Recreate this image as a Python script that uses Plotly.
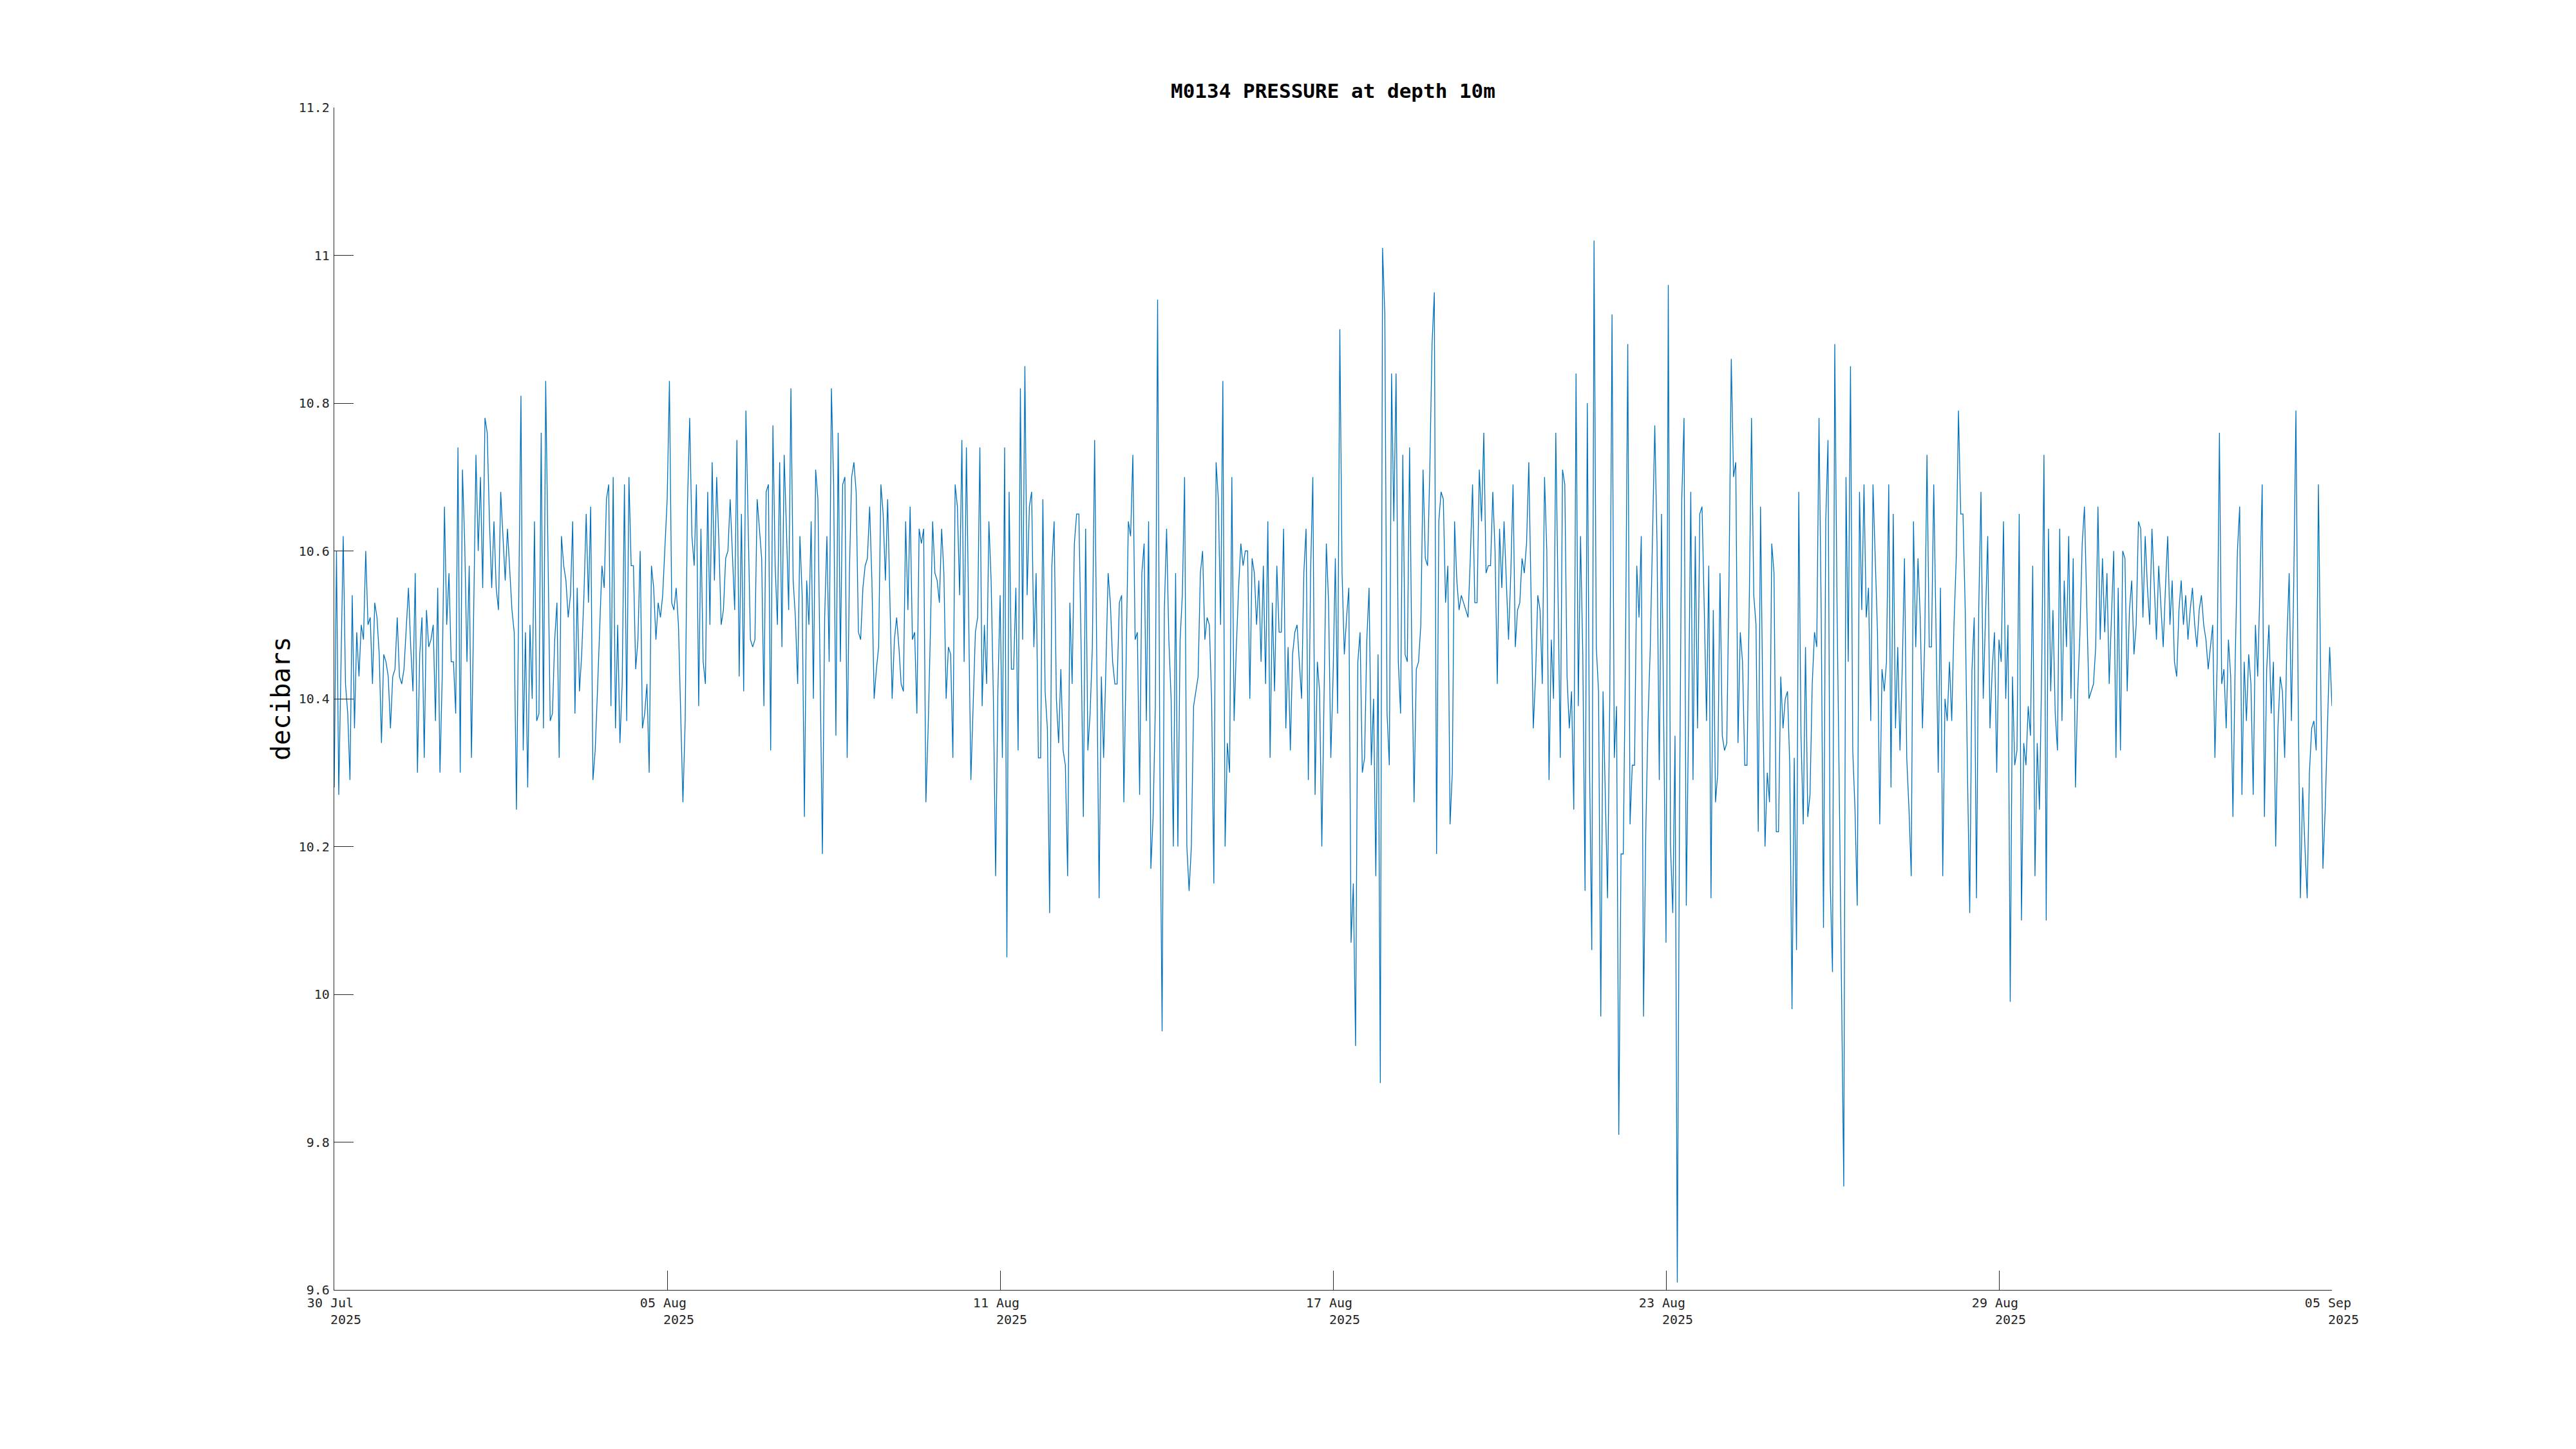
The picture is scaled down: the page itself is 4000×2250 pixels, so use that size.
import plotly.graph_objects as go
import pandas as pd

# ---------------- data (hourly samples, decibars) ----------------
series_start = "2025-07-30 00:00"
sample_interval = "h"

p_jul30_aug02 = [
    10.28, 10.60, 10.27, 10.44, 10.62, 10.42, 10.38, 10.29, 10.54, 10.36,
    10.49, 10.43, 10.50, 10.48, 10.60, 10.50, 10.51, 10.42, 10.53, 10.51,
    10.46, 10.34, 10.46, 10.45, 10.43, 10.36, 10.43, 10.44, 10.51, 10.43,
    10.42, 10.44, 10.50, 10.55, 10.47, 10.41, 10.57, 10.30, 10.46, 10.51,
    10.32, 10.52, 10.47, 10.48, 10.50, 10.37, 10.55, 10.30, 10.43, 10.66,
    10.50, 10.57, 10.45, 10.45, 10.38, 10.74, 10.30, 10.71, 10.61, 10.45,
    10.58, 10.32, 10.52, 10.73, 10.60, 10.70, 10.55, 10.78, 10.76, 10.64,
    10.55, 10.64, 10.55, 10.52, 10.68, 10.62, 10.56, 10.63, 10.57, 10.52,
    10.49, 10.25, 10.53, 10.81, 10.33, 10.49, 10.28, 10.50, 10.40, 10.64,
]
p_aug02_aug06 = [
    10.37, 10.38, 10.76, 10.36, 10.83, 10.58, 10.37, 10.38, 10.48, 10.53,
    10.32, 10.62, 10.58, 10.56, 10.51, 10.54, 10.64, 10.38, 10.55, 10.41,
    10.46, 10.54, 10.65, 10.53, 10.66, 10.29, 10.33, 10.41, 10.50, 10.58,
    10.55, 10.67, 10.69, 10.39, 10.70, 10.36, 10.50, 10.34, 10.42, 10.69,
    10.37, 10.70, 10.58, 10.58, 10.44, 10.48, 10.60, 10.36, 10.38, 10.42,
    10.30, 10.58, 10.55, 10.48, 10.53, 10.51, 10.54, 10.60, 10.67, 10.83,
    10.53, 10.52, 10.55, 10.50, 10.38, 10.26, 10.37, 10.66, 10.78, 10.62,
    10.58, 10.69, 10.39, 10.63, 10.45, 10.42, 10.68, 10.50, 10.72, 10.56,
    10.70, 10.61, 10.50, 10.52, 10.59, 10.60, 10.67, 10.59, 10.52,
]
p_aug06_aug10 = [
    10.75, 10.43, 10.65, 10.41, 10.79, 10.64, 10.48, 10.47, 10.48, 10.67,
    10.63, 10.59, 10.39, 10.68, 10.69, 10.33, 10.77, 10.58, 10.50, 10.72,
    10.47, 10.73, 10.63, 10.52, 10.82, 10.56, 10.51, 10.42, 10.62, 10.54,
    10.24, 10.56, 10.50, 10.64, 10.40, 10.71, 10.67, 10.43, 10.19, 10.51,
    10.62, 10.45, 10.82, 10.69, 10.35, 10.76, 10.45, 10.69, 10.70, 10.32,
    10.57, 10.70, 10.72, 10.68, 10.49, 10.48, 10.55, 10.58, 10.59, 10.66,
    10.56, 10.40, 10.44, 10.47, 10.69, 10.65, 10.56, 10.67, 10.53, 10.40,
    10.48, 10.51, 10.47, 10.42, 10.41, 10.64, 10.52, 10.66, 10.48, 10.49,
    10.38, 10.63, 10.61, 10.63, 10.26, 10.36, 10.49, 10.64, 10.57,
]
p_aug10_aug14 = [
    10.56, 10.53, 10.63, 10.57, 10.40, 10.47, 10.46, 10.32, 10.69, 10.66,
    10.54, 10.75, 10.45, 10.74, 10.52, 10.29, 10.39, 10.49, 10.51, 10.74,
    10.39, 10.50, 10.42, 10.64, 10.56, 10.40, 10.16, 10.41, 10.54, 10.32,
    10.74, 10.05, 10.68, 10.44, 10.44, 10.55, 10.33, 10.82, 10.48, 10.85,
    10.54, 10.66, 10.68, 10.47, 10.57, 10.32, 10.32, 10.67, 10.41, 10.36,
    10.11, 10.58, 10.64, 10.40, 10.34, 10.44, 10.33, 10.31, 10.16, 10.53,
    10.42, 10.61, 10.65, 10.65, 10.47, 10.24, 10.63, 10.33, 10.38, 10.47,
    10.75, 10.44, 10.13, 10.43, 10.32, 10.44, 10.57, 10.53, 10.45, 10.42,
    10.42, 10.53, 10.54, 10.26, 10.44, 10.64, 10.62, 10.73, 10.48,
]
p_aug14_aug17 = [
    10.49, 10.27, 10.57, 10.61, 10.37, 10.64, 10.17, 10.24, 10.39, 10.94,
    10.31, 9.95, 10.52, 10.63, 10.48, 10.40, 10.20, 10.57, 10.20, 10.48,
    10.54, 10.70, 10.20, 10.14, 10.20, 10.39, 10.41, 10.43, 10.57, 10.60,
    10.48, 10.51, 10.50, 10.40, 10.15, 10.72, 10.67, 10.50, 10.83, 10.20,
    10.34, 10.30, 10.70, 10.37, 10.47, 10.55, 10.61, 10.58, 10.60, 10.60,
    10.40, 10.59, 10.57, 10.50, 10.56, 10.45, 10.58, 10.42, 10.64, 10.32,
    10.53, 10.41, 10.58, 10.49, 10.49, 10.63, 10.36, 10.47, 10.33, 10.46,
    10.49, 10.50, 10.45, 10.40, 10.57, 10.63, 10.29, 10.57, 10.70, 10.27,
    10.45, 10.41, 10.20, 10.40, 10.61, 10.53, 10.32, 10.43, 10.59, 10.38,
]
p_aug17_aug21 = [
    10.90, 10.57, 10.46, 10.51, 10.55, 10.07, 10.15, 9.93, 10.45, 10.49,
    10.30, 10.32, 10.48, 10.55, 10.31, 10.40, 10.16, 10.46, 9.88, 11.01,
    10.92, 10.38, 10.31, 10.84, 10.64, 10.84, 10.45, 10.38, 10.73, 10.46,
    10.45, 10.74, 10.46, 10.26, 10.44, 10.45, 10.50, 10.71, 10.59, 10.58,
    10.71, 10.88, 10.95, 10.19, 10.64, 10.68, 10.67, 10.53, 10.58, 10.23,
    10.30, 10.64, 10.56, 10.52, 10.54, 10.53, 10.52, 10.51, 10.59, 10.69,
    10.53, 10.53, 10.71, 10.64, 10.76, 10.57, 10.58, 10.58, 10.68, 10.60,
    10.42, 10.63, 10.55, 10.64, 10.56, 10.48, 10.57, 10.69, 10.47, 10.52,
    10.53, 10.59, 10.57, 10.61, 10.72, 10.53, 10.36, 10.43, 10.54, 10.52,
]
p_aug21_aug25 = [
    10.42, 10.70, 10.60, 10.29, 10.48, 10.40, 10.76, 10.54, 10.32, 10.71,
    10.69, 10.43, 10.36, 10.41, 10.25, 10.84, 10.39, 10.62, 10.46, 10.14,
    10.80, 10.31, 10.06, 11.02, 10.47, 10.41, 9.97, 10.41, 10.26, 10.13,
    10.40, 10.92, 10.32, 10.39, 9.81, 10.19, 10.19, 10.47, 10.88, 10.23,
    10.31, 10.31, 10.58, 10.51, 10.62, 9.97, 10.22, 10.37, 10.47, 10.63,
    10.77, 10.61, 10.29, 10.65, 10.36, 10.07, 10.96, 10.20, 10.11, 10.35,
    9.61, 10.25, 10.67, 10.78, 10.12, 10.37, 10.68, 10.29, 10.62, 10.36,
    10.65, 10.66, 10.52, 10.37, 10.58, 10.13, 10.52, 10.26, 10.30, 10.57,
    10.35, 10.33, 10.34, 10.56, 10.86, 10.70, 10.72, 10.34, 10.49, 10.45,
]
p_aug25_aug29 = [
    10.31, 10.31, 10.53, 10.78, 10.54, 10.50, 10.22, 10.66, 10.40, 10.20,
    10.30, 10.26, 10.61, 10.57, 10.22, 10.22, 10.43, 10.36, 10.40, 10.41,
    10.31, 9.98, 10.32, 10.06, 10.68, 10.35, 10.23, 10.47, 10.24, 10.27,
    10.42, 10.49, 10.47, 10.78, 10.51, 10.09, 10.64, 10.75, 10.15, 10.03,
    10.88, 10.53, 10.28, 10.02, 9.74, 10.70, 10.45, 10.85, 10.33, 10.25,
    10.12, 10.68, 10.52, 10.69, 10.51, 10.55, 10.37, 10.69, 10.59, 10.49,
    10.23, 10.44, 10.41, 10.45, 10.69, 10.28, 10.65, 10.36, 10.47, 10.33,
    10.44, 10.59, 10.32, 10.25, 10.16, 10.64, 10.47, 10.59, 10.51, 10.36,
    10.48, 10.73, 10.47, 10.47, 10.69, 10.50, 10.30, 10.55, 10.16,
]
p_aug29_sep01 = [
    10.40, 10.37, 10.45, 10.37, 10.50, 10.59, 10.79, 10.65, 10.65, 10.52,
    10.30, 10.11, 10.44, 10.51, 10.13, 10.52, 10.68, 10.40, 10.51, 10.62,
    10.36, 10.44, 10.49, 10.30, 10.48, 10.45, 10.64, 10.40, 10.50, 9.99,
    10.43, 10.31, 10.33, 10.65, 10.10, 10.34, 10.31, 10.39, 10.35, 10.58,
    10.16, 10.34, 10.25, 10.44, 10.73, 10.10, 10.63, 10.41, 10.52, 10.38,
    10.33, 10.63, 10.37, 10.56, 10.47, 10.62, 10.40, 10.59, 10.28, 10.41,
    10.49, 10.61, 10.66, 10.53, 10.40, 10.41, 10.42, 10.47, 10.66, 10.48,
    10.59, 10.49, 10.57, 10.42, 10.51, 10.60, 10.32, 10.55, 10.33, 10.60,
    10.59, 10.41, 10.52, 10.56, 10.46, 10.50, 10.64, 10.63, 10.51, 10.62,
]
p_sep01_sep05 = [
    10.55, 10.50, 10.63, 10.55, 10.48, 10.58, 10.52, 10.47, 10.55, 10.62,
    10.50, 10.56, 10.45, 10.43, 10.52, 10.56, 10.50, 10.54, 10.48, 10.52,
    10.55, 10.50, 10.47, 10.52, 10.54, 10.50, 10.48, 10.44, 10.47, 10.50,
    10.32, 10.45, 10.76, 10.42, 10.44, 10.36, 10.48, 10.43, 10.24, 10.45,
    10.60, 10.66, 10.27, 10.45, 10.37, 10.46, 10.42, 10.27, 10.50, 10.43,
    10.55, 10.69, 10.24, 10.44, 10.50, 10.38, 10.45, 10.20, 10.36, 10.43,
    10.41, 10.32, 10.48, 10.57, 10.37, 10.55, 10.79, 10.40, 10.13, 10.28,
    10.20, 10.13, 10.30, 10.36, 10.37, 10.33, 10.69, 10.40, 10.17, 10.25,
    10.35, 10.47, 10.39,
]

pressure_dbar = (p_jul30_aug02 + p_aug02_aug06 + p_aug06_aug10 + p_aug10_aug14
                 + p_aug14_aug17 + p_aug17_aug21 + p_aug21_aug25 + p_aug25_aug29
                 + p_aug29_sep01 + p_sep01_sep05)
times = pd.date_range(series_start, periods=len(pressure_dbar), freq=sample_interval)

x_tick_dates = ["2025-07-30 00:00", "2025-08-05 04:00", "2025-08-11 08:00",
                "2025-08-17 12:00", "2025-08-23 16:00", "2025-08-29 20:00",
                "2025-09-05 00:00"]
x_tick_days = ["30 Jul", "05 Aug", "11 Aug", "17 Aug", "23 Aug", "29 Aug", "05 Sep"]
x_tick_year = "2025"
y_tick_values = [9.6, 9.8, 10.0, 10.2, 10.4, 10.6, 10.8, 11.0, 11.2]
y_tick_labels = ["9.6", "9.8", "10", "10.2", "10.4", "10.6", "10.8", "11", "11.2"]

title_text = "M0134 PRESSURE at depth 10m"
y_label = "decibars"

# ---------------- figure ----------------
NB = "\u00a0"
x_tick_text = [f"{d}{NB}<br>{NB * 3}{x_tick_year}" for d in x_tick_days]

FONT = "DejaVu Sans Mono"
AX = "#262626"
W, H = 4000, 2250
L, R, T, B = 519, 379, 167, 247

fig = go.Figure()
fig.add_trace(go.Scatter(
    x=times, y=pressure_dbar, mode="lines",
    line=dict(color="#0072BD", width=1.3),
    hoverinfo="skip",
))

fig.update_layout(
    width=W, height=H,
    margin=dict(l=L, r=R, t=T, b=B, pad=0),
    paper_bgcolor="white", plot_bgcolor="white",
    showlegend=False,
    font=dict(family=FONT, size=20, color=AX),
    title=dict(
        text=f"<b>{title_text}</b>",
        x=0.5, xref="paper", xanchor="center",
        y=1 - 141 / H, yref="container", yanchor="middle",
        font=dict(family=FONT, size=31, color="black"),
    ),
)

fig.update_xaxes(
    type="date",
    range=[x_tick_dates[0], x_tick_dates[-1]],
    tickmode="array", tickvals=x_tick_dates, ticktext=x_tick_text,
    ticks="inside", ticklen=30, tickwidth=1.3, tickcolor=AX,
    showline=True, linecolor=AX, linewidth=1.3,
    showgrid=False, zeroline=False, mirror=False,
    tickfont=dict(family=FONT, size=20, color=AX),
    ticklabelstandoff=2,
)
fig.update_yaxes(
    range=[y_tick_values[0], y_tick_values[-1]],
    tickmode="array", tickvals=y_tick_values, ticktext=y_tick_labels,
    ticks="inside", ticklen=30, tickwidth=1.3, tickcolor=AX,
    showline=True, linecolor=AX, linewidth=1.3,
    showgrid=False, zeroline=False, mirror=False,
    tickfont=dict(family=FONT, size=20, color=AX),
    ticklabelstandoff=2,
)

fig.add_annotation(
    text=y_label, textangle=-90,
    xref="paper", yref="paper",
    x=(436 - L) / (W - L - R), y=0.5,
    xanchor="center", yanchor="middle",
    showarrow=False,
    font=dict(family=FONT, size=40, color="black"),
)

fig.write_html("out.html", config={"displayModeBar": False},
               post_script="document.body.style.margin='0';")
